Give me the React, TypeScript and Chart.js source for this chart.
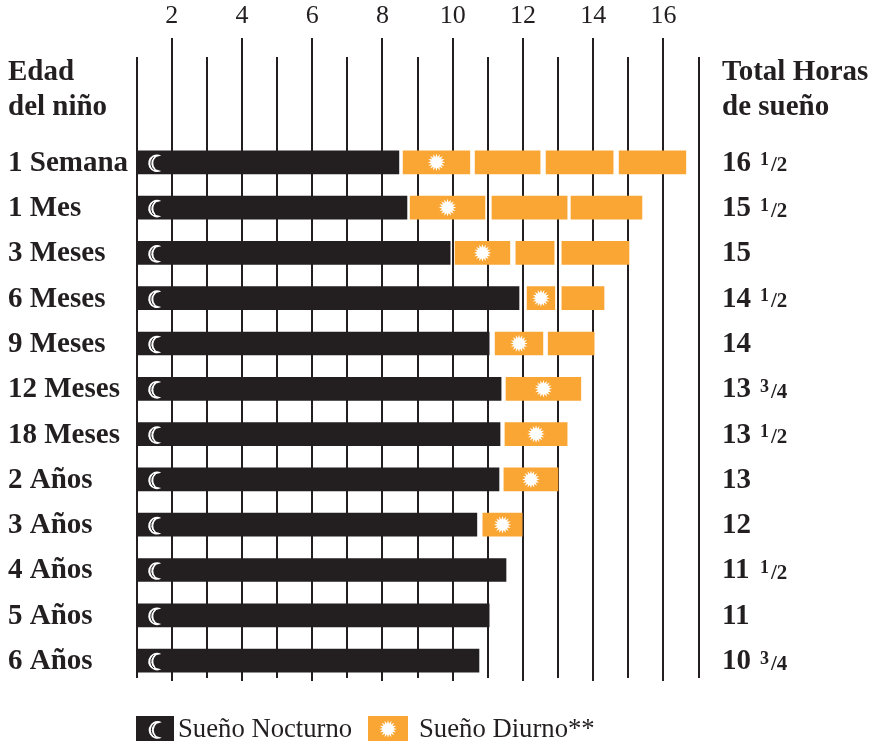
import React, { useEffect, useRef } from "react";
import { Chart, registerables } from "chart.js";

Chart.register(...registerables);

const ages = ["1 Semana", "1 Mes", "3 Meses", "6 Meses", "9 Meses", "12 Meses", "18 Meses", "2 Años", "3 Años", "4 Años", "5 Años", "6 Años"];
const totalWhole = ["16", "15", "15", "14", "14", "13", "13", "13", "12", "11", "11", "10"];
const totalFraction = ["1/2", "1/2", "", "1/2", "", "3/4", "1/2", "", "", "1/2", "", "3/4"];

const night: number[][] = [[1, 8.47], [1, 8.7], [1, 9.93], [1, 11.89], [1, 11.04], [1, 11.38], [1, 11.35], [1, 11.32], [1, 10.69], [1, 11.52], [1, 11.04], [1, 10.75]];
const dayNap1 = [[8.59, 10.49], [8.79, 10.92], [10.07, 11.63], [12.12, 12.91], [11.21, 12.57], [11.52, 13.65], [11.49, 13.26], [11.46, 13.0], [10.86, 11.98], null, null, null];
const dayNap2 = [[10.64, 12.49], [11.12, 13.26], [11.8, 12.89], [13.11, 14.31], [12.72, 14.03], null, null, null, null, null, null, null];
const dayNap3 = [[12.66, 14.57], [13.37, 15.39], [13.11, 15.02], null, null, null, null, null, null, null, null, null];
const dayNap4 = [[14.74, 16.64], null, null, null, null, null, null, null, null, null, null, null];

const DARK = "#231f20";
const ORANGE = "#faa634";
const SERIF = '"Liberation Serif"';
const Y_MIN = -2.3245;
const Y_MAX = 11.384;

function drawMoon(c: CanvasRenderingContext2D, x: number, y: number) {
  c.save();
  c.translate(x, y);
  c.fillStyle = "#fff";
  c.beginPath();
  c.arc(1.5, 0, 8.8, Math.PI * 0.34, Math.PI * 1.66, false);
  c.arc(6.2, 0, 8.4, Math.PI * 1.27, Math.PI * 0.73, true);
  c.closePath();
  c.fill();
  c.strokeStyle = DARK;
  c.lineWidth = 1;
  c.beginPath();
  c.arc(3.6, 0, 8.3, Math.PI * 0.72, Math.PI * 1.28, false);
  c.stroke();
  c.restore();
}

function drawSun(c: CanvasRenderingContext2D, x: number, y: number) {
  c.save();
  c.translate(x, y);
  c.fillStyle = "#fff";
  c.beginPath();
  const n = 16;
  for (let i = 0; i < n * 2; i++) {
    const r = i % 2 === 0 ? 8.8 : 5.4;
    const a = (i * Math.PI) / n;
    const px = Math.cos(a) * r;
    const py = Math.sin(a) * r;
    if (i === 0) c.moveTo(px, py);
    else c.lineTo(px, py);
  }
  c.closePath();
  c.fill();
  c.restore();
}

const decorations = {
  id: "decorations",
  afterDatasetsDraw(chart: any) {
    const c: CanvasRenderingContext2D = chart.ctx;
    const xs = chart.scales.x;
    const ys = chart.scales.y;
    ages.forEach((_, i) => {
      const y = ys.getPixelForValue(i);
      drawMoon(c, xs.getPixelForValue(night[i][0]) + 19, y + 1);
      const nap = dayNap1[i];
      if (nap) drawSun(c, (xs.getPixelForValue(nap[0]) + xs.getPixelForValue(nap[1])) / 2, y);
    });
  },
  afterDraw(chart: any) {
    const c: CanvasRenderingContext2D = chart.ctx;
    const ys = chart.scales.y;
    c.save();
    c.fillStyle = DARK;
    c.textBaseline = "alphabetic";
    c.textAlign = "left";
    // column headers
    c.font = `bold 29px ${SERIF}`;
    c.fillText("Edad", 8, 80);
    c.fillText("del niño", 8, 115);
    c.fillText("Total Horas", 722, 80);
    c.fillText("de sueño", 722, 115);
    // fractions beside the totals
    ages.forEach((_, i) => {
      const f = totalFraction[i];
      if (!f) return;
      const [a, b] = f.split("/");
      const y = ys.getPixelForValue(i) + 9;
      c.font = `bold 18px ${SERIF}`;
      c.fillText(a, 760, y - 6);
      c.font = `bold 21px ${SERIF}`;
      c.fillText("/" + b, 771, y);
    });
    // legend
    c.fillStyle = DARK;
    c.fillRect(136, 716, 38, 25);
    drawMoon(c, 156, 730);
    c.fillStyle = ORANGE;
    c.fillRect(368, 716, 40, 25);
    drawSun(c, 388, 729);
    c.fillStyle = DARK;
    c.font = `26.7px ${SERIF}`;
    c.fillText("Sueño Nocturno", 178, 737);
    c.fillText("Sueño Diurno**", 419, 737);
    c.restore();
  },
};

const rows = ages.map((_, i) => i);
const rowTicks = (s: any) => {
  s.ticks = rows.map((value) => ({ value }));
};
const barDefaults = { grouped: false, barThickness: 23, borderSkipped: false, borderWidth: 0 };
const toPoints = (a: (number[] | null)[]) => a.map((v, i) => ({ x: v, y: i }));

export default function App() {
  const ref = useRef<HTMLCanvasElement>(null);
  useEffect(() => {
    const yBase = { type: "linear", reverse: true, offset: false, min: Y_MIN, max: Y_MAX, afterBuildTicks: rowTicks, grid: { display: false, drawTicks: false }, border: { display: false } };
    const chart = new Chart(ref.current as HTMLCanvasElement, {
      type: "bar",
      data: {
        datasets: [
          { label: "Sueño Nocturno", data: toPoints(night), backgroundColor: DARK, ...barDefaults },
          { label: "Sueño Diurno**", data: toPoints(dayNap1), backgroundColor: ORANGE, ...barDefaults },
          { label: "Sueño Diurno 2", data: toPoints(dayNap2), backgroundColor: ORANGE, ...barDefaults },
          { label: "Sueño Diurno 3", data: toPoints(dayNap3), backgroundColor: ORANGE, ...barDefaults },
          { label: "Sueño Diurno 4", data: toPoints(dayNap4), backgroundColor: ORANGE, ...barDefaults },
        ] as any,
      },
      options: {
        indexAxis: "y",
        responsive: false,
        animation: false,
        layout: { padding: { left: 8, right: 0, top: 0, bottom: 0 } },
        plugins: { legend: { display: false }, tooltip: { enabled: false } },
        scales: {
          x: {
            type: "linear",
            position: "top",
            min: 1,
            max: 17,
            afterFit: (s: any) => { s.height = 57; },
            border: { display: false },
            grid: {
              color: DARK,
              lineWidth: 2,
              tickLength: 19,
              tickWidth: 2,
              tickColor: (ctx: any) => (ctx.tick && ctx.tick.value % 2 === 0 ? DARK : "rgba(0,0,0,0)"),
            },
            ticks: {
              stepSize: 1,
              autoSkip: false,
              maxRotation: 0,
              padding: 6,
              color: DARK,
              font: { family: SERIF, size: 26 },
              callback: (v: any) => (v % 2 === 0 ? String(v) : ""),
            },
          },
          x2: {
            type: "linear",
            position: "bottom",
            min: 1,
            max: 17,
            afterFit: (s: any) => { s.height = 63; },
            border: { display: false },
            grid: {
              drawOnChartArea: false,
              lineWidth: 2,
              tickLength: 3,
              tickWidth: 2,
              tickColor: (ctx: any) => (ctx.tick && ctx.tick.value % 2 === 0 ? DARK : "rgba(0,0,0,0)"),
            },
            ticks: { stepSize: 1, autoSkip: false, maxRotation: 0, callback: () => "" },
          },
          y: {
            ...yBase,
            position: "left",
            afterFit: (s: any) => { s.width = 128.5; },
            ticks: {
              autoSkip: false,
              crossAlign: "far",
              labelOffset: 1,
              color: DARK,
              font: { family: SERIF, size: 29, weight: "bold" },
              callback: (v: any) => ages[v] ?? "",
            },
          },
          y2: {
            ...yBase,
            position: "right",
            afterFit: (s: any) => { s.width = 178.5; },
            ticks: {
              autoSkip: false,
              labelOffset: 1,
              padding: 23.5,
              color: DARK,
              font: { family: SERIF, size: 29, weight: "bold" },
              callback: (v: any) => totalWhole[v] ?? "",
            },
          },
        },
      } as any,
      plugins: [decorations],
    });
    return () => chart.destroy();
  }, []);
  return (
    <canvas
      ref={ref}
      width={877}
      height={741}
      style={{ position: "fixed", left: 0, top: 0, width: 877, height: 741, display: "block" }}
    />
  );
}
